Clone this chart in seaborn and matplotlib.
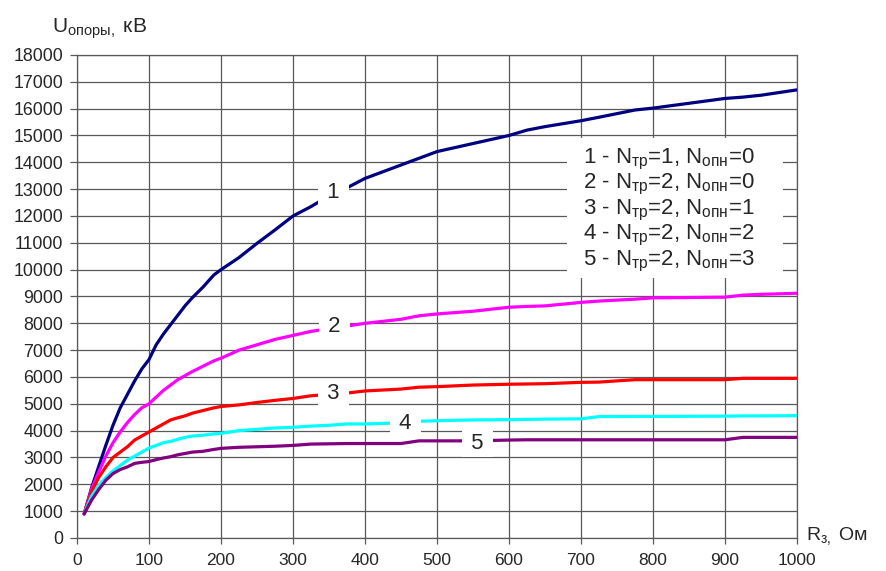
import numpy as np
import pandas as pd
import matplotlib
matplotlib.use('Agg')
import matplotlib.pyplot as plt
import matplotlib.patches as mpatches
import seaborn as sns

# ---------------- data ----------------
R = [10, 20, 30, 40, 50, 60, 70, 80, 90, 100, 110, 120, 130, 140, 150, 160, 175, 190, 200,
     225, 250, 275, 300, 325, 350, 375, 400, 450, 475, 500, 550, 600, 625, 650, 700, 725,
     775, 800, 900, 925, 950, 1000]
U1 = [900, 1850, 2650, 3450, 4200, 4850, 5350, 5850, 6300, 6650, 7200, 7600, 7950, 8300, 8650,
      8950, 9350, 9800, 10000, 10450, 10980, 11480, 12000, 12350, 12750, 13050, 13400, 13900,
      14150, 14400, 14700, 15000, 15200, 15330, 15550, 15680, 15950, 16020, 16380, 16430, 16500,
      16700]
U2 = [900, 1800, 2450, 3050, 3550, 3950, 4300, 4600, 4850, 5000, 5250, 5500, 5700, 5900, 6050,
      6200, 6400, 6600, 6700, 7000, 7200, 7400, 7550, 7700, 7800, 7900, 8000, 8150, 8280, 8350,
      8450, 8600, 8630, 8650, 8780, 8830, 8900, 8950, 8975, 9050, 9080, 9120]
U3 = [900, 1700, 2250, 2650, 3000, 3200, 3400, 3650, 3800, 3950, 4100, 4250, 4400, 4480, 4550,
      4650, 4750, 4850, 4900, 4960, 5050, 5130, 5200, 5300, 5350, 5400, 5480, 5550, 5620, 5640,
      5700, 5730, 5740, 5750, 5800, 5810, 5900, 5900, 5900, 5950, 5950, 5950]
U4 = [900, 1550, 1950, 2250, 2500, 2700, 2900, 3050, 3200, 3350, 3450, 3550, 3600, 3680, 3750,
      3800, 3830, 3880, 3900, 4000, 4050, 4100, 4125, 4170, 4200, 4250, 4250, 4290, 4350, 4370,
      4400, 4410, 4420, 4430, 4440, 4525, 4530, 4530, 4540, 4550, 4550, 4560]
U5 = [900, 1400, 1800, 2150, 2400, 2550, 2650, 2780, 2820, 2850, 2920, 2980, 3030, 3100, 3150,
      3200, 3230, 3300, 3340, 3380, 3400, 3420, 3450, 3500, 3510, 3520, 3520, 3520, 3620, 3620,
      3620, 3650, 3660, 3660, 3660, 3660, 3660, 3660, 3660, 3750, 3750, 3750]
curve_names = ['1', '2', '3', '4', '5']
curve_colors = ['#000080', '#FF00FF', '#FF0000', '#00FFFF', '#800080']
legend_lines = [r'1 - N$_{\mathrm{тр}}$=1, N$_{\mathrm{опн}}$=0',
                r'2 - N$_{\mathrm{тр}}$=2, N$_{\mathrm{опн}}$=0',
                r'3 - N$_{\mathrm{тр}}$=2, N$_{\mathrm{опн}}$=1',
                r'4 - N$_{\mathrm{тр}}$=2, N$_{\mathrm{опн}}$=2',
                r'5 - N$_{\mathrm{тр}}$=2, N$_{\mathrm{опн}}$=3']
# in-plot curve labels (R, U)
label_pos = [(356, 12860), (358, 7870), (356, 5370), (456, 4250), (556, 3540)]

df = pd.DataFrame({'R': R * 5,
                   'U': U1 + U2 + U3 + U4 + U5,
                   'curve': sum([[n] * len(R) for n in curve_names], [])})

# ---------------- style ----------------
sns.set_style('white')
plt.rcParams['font.family'] = ['Liberation Sans', 'DejaVu Sans']
plt.rcParams['mathtext.fontset'] = 'custom'
plt.rcParams['mathtext.rm'] = 'Liberation Sans'
plt.rcParams['mathtext.it'] = 'Liberation Sans:italic'
plt.rcParams['mathtext.bf'] = 'Liberation Sans:bold'

fig = plt.figure(figsize=(8.87, 5.71), dpi=100)
ax = fig.add_axes([0.0868, 0.0578, 0.8117, 0.8459])

sns.lineplot(data=df, x='R', y='U', hue='curve', palette=curve_colors, linewidth=2.3,
             legend=False, ax=ax, zorder=3)

ax.set_xlim(0, 1000)
ax.set_ylim(0, 18000)
ax.set_xticks(np.arange(0, 1001, 100))
ax.set_yticks(np.arange(0, 18001, 1000))
ax.grid(True, color='0.35', linewidth=0.9, zorder=0)
ax.set_axisbelow(True)
for s in ax.spines.values():
    s.set_color('0.35')
    s.set_linewidth(0.9)
ax.tick_params(axis='y', length=5, width=0.9, color='0.35', pad=5, labelsize=12.8, left=True)
ax.tick_params(axis='x', length=4, width=0.9, color='0.35', pad=7, labelsize=12.5, bottom=True)
ax.set_xlabel('')
ax.set_ylabel('')

# axis titles
fig.text(52 / 887, 1 - 33 / 571, r'U$_{\mathrm{опоры},}$ кВ', fontsize=15, va='baseline', ha='left')
ax.text(1.012, 0.004, r'R$_{\mathrm{з},}$ Ом', transform=ax.transAxes, fontsize=14,
        va='center', ha='left')

# curve number labels on white patches
for name, (xr, yu) in zip(curve_names, label_pos):
    ax.text(xr, yu, ' ' + name + ' ', fontsize=16, ha='center', va='center', zorder=5,
            bbox=dict(boxstyle='square,pad=0.15', facecolor='white', edgecolor='none'))

# explanation block on white background
ax.add_patch(mpatches.Rectangle((0.681, 0.538), 0.30, 0.29, transform=ax.transAxes,
                                facecolor='white', edgecolor='none', zorder=2))
for i, line in enumerate(legend_lines):
    ax.text(0.703, 0.776 - i * 0.0528, line, transform=ax.transAxes, fontsize=16,
            va='baseline', ha='left', zorder=4)

fig.savefig('out.png', dpi=100)
